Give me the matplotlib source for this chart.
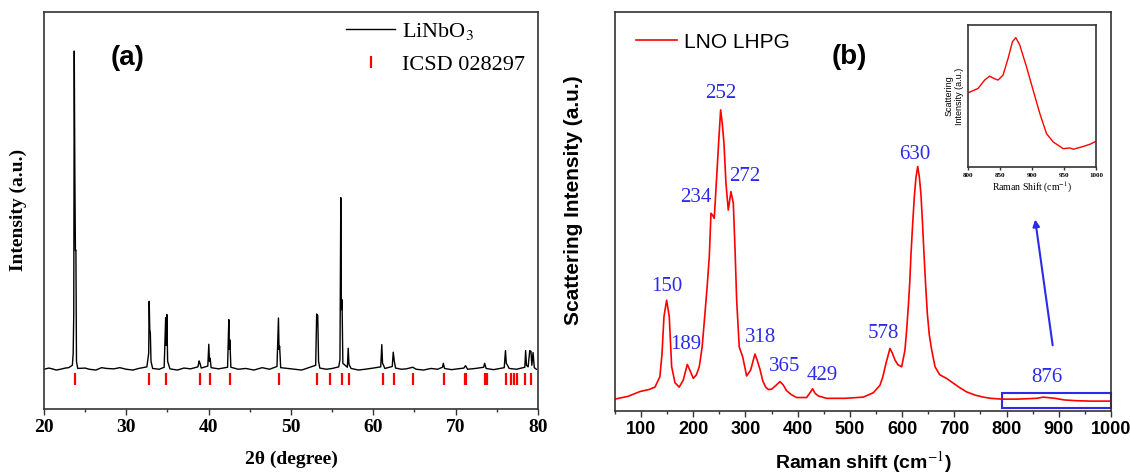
import numpy as np
import matplotlib
matplotlib.use("Agg")
import matplotlib.pyplot as plt
from matplotlib.ticker import MultipleLocator
from matplotlib.patches import Rectangle

plt.rcParams['mathtext.fontset'] = 'stix'

# XRD pattern of LiNbO3 (y in % of axis height)
xrd_2theta = [20.0, 20.6, 21.0, 21.5, 22.0, 22.6, 23.0, 23.45, 23.55, 23.62, 23.68, 23.75, 23.82, 23.88, 23.95, 24.1,
              25.0, 25.5, 26.3, 27.0, 27.6, 28.5, 29.2, 30.0, 30.8, 31.5, 32.5, 32.72, 32.78, 32.85, 32.92, 33.0, 33.2,
              34.0, 34.6, 34.78, 34.85, 34.92, 35.02, 35.3, 36.2, 37.0, 37.8, 38.7, 38.85, 38.95, 39.1,
              39.9, 40.02, 40.1, 40.18, 40.3, 41.2, 42.3, 42.45, 42.52, 42.58, 42.7,
              43.6, 44.5, 45.5, 46.5, 47.4, 48.3, 48.48, 48.55, 48.62, 48.75, 49.6, 50.5, 51.3, 52.0,
              53.0, 53.12, 53.25, 53.35, 53.5, 54.3, 55.0, 55.8, 55.95, 56.05, 56.12, 56.2, 56.3,
              56.85, 56.95, 57.05, 57.3, 58.2, 59.0, 60.0, 60.9, 61.03, 61.12, 61.2, 61.4, 62.3, 62.42, 62.55, 62.7,
              63.4, 64.0, 64.8, 65.2, 66.1, 67.0, 67.8, 68.4, 68.5, 68.65, 69.5, 70.3, 71.0, 71.2, 71.45,
              72.4, 73.4, 73.52, 73.7, 74.6, 75.9, 76.05, 76.15, 76.3, 76.5, 77.4,
              78.4, 78.5, 78.6, 78.8, 79.0, 79.15, 79.25, 79.4, 79.55, 79.8]
xrd_int = [10.0, 10.3, 10.1, 9.8, 10.0, 10.3, 10.4, 11.0, 14.0, 24.2, 90.1, 60.0, 39.9, 40.0, 12.0, 10.2,
           10.3, 10.0, 9.8, 10.4, 10.2, 10.1, 10.4, 10.0, 9.8, 10.2, 10.6, 14.0, 27.1, 20.0, 19.1, 12.0, 10.2,
           10.0, 10.5, 23.0, 16.0, 23.8, 12.0, 10.1, 9.8, 10.3, 10.1, 10.6, 12.1, 11.5, 10.3,
           10.8, 16.3, 12.0, 12.8, 10.4, 10.1, 10.5, 22.5, 15.0, 17.4, 10.5,
           10.0, 10.2, 9.8, 10.4, 10.0, 10.7, 22.9, 15.0, 15.8, 10.4, 10.2, 10.0, 9.8, 10.3,
           11.0, 23.9, 23.5, 12.0, 10.3, 10.0, 10.2, 10.6, 12.4, 53.2, 25.0, 27.5, 11.5,
           10.5, 15.3, 11.2, 10.2, 9.8, 10.0, 10.3, 10.6, 16.2, 11.5, 11.2, 10.2, 10.7, 14.3, 12.0, 10.3,
           10.0, 10.1, 10.5, 10.0, 9.8, 10.2, 10.0, 10.5, 11.5, 10.2, 9.9, 10.1, 10.3, 10.9, 10.0,
           10.2, 10.5, 11.5, 10.2, 9.9, 10.4, 14.7, 11.5, 11.0, 10.2, 10.0,
           10.5, 14.7, 11.0, 10.6, 14.7, 14.5, 11.0, 14.2, 10.4, 10.0]

# ICSD 028297 reference reflections
icsd_pos = [23.77, 32.77, 34.81, 39.0, 40.13, 42.6, 48.57, 53.2, 54.8, 56.15, 57.01, 61.21,
            62.47, 64.76, 68.57, 71.17, 71.3, 73.55, 73.85, 76.06, 76.71, 77.1, 77.49, 78.44, 79.09]
icsd_level = 7.5

# Raman spectrum (LNO LHPG)
raman_shift = [50, 75, 97.9, 115, 126.6, 136, 140, 143.9, 149, 154, 158.6, 165, 173, 180.9, 188.5,
               194, 200, 206, 211.5, 217, 222.4, 226.5, 230.7, 233.9, 237, 240.2, 244.8, 248.5,
               252.4, 255.5, 258.8, 262.6, 267, 272.2, 276.7, 280, 283.1, 288, 294.6, 302.2,
               309.9, 318.1, 322, 327.7, 333, 338.6, 344, 350.1, 358, 366, 372, 378.8, 388, 398,
               417.1, 422, 428.6, 433, 439.4, 455.3, 490, 525.6, 544.8, 551, 557.6, 563, 569.1,
               576.7, 581, 586.3, 592, 599.1, 605.4, 608.5, 611.8, 614.5, 617, 620, 623.3, 626.5,
               629.8, 633, 636.1, 639, 641.8, 645, 648.2, 652, 656.6, 663, 672, 685, 698, 710,
               723.6, 740, 755.4, 770, 790.6, 820, 857.6, 870.4, 892.8, 910, 934.3, 960, 1000]
raman_int = [2.9, 3.6, 4.8, 5.3, 5.9, 8.5, 14.0, 23.6, 27.7, 23.6, 11.0, 7.0, 5.9, 7.7, 11.6,
             10.0, 8.1, 9.0, 11.0, 16.0, 24.4, 31.0, 38.6, 49.5, 49.0, 48.2, 58.6, 67.0,
             75.4, 72.0, 67.0, 57.0, 50.3, 54.9, 52.0, 40.3, 27.7, 16.0, 13.5, 8.7,
             10.2, 14.2, 12.8, 10.4, 7.5, 5.9, 5.3, 5.4, 6.3, 7.3, 6.5, 5.0, 4.0, 3.3,
             3.3, 4.2, 5.5, 4.4, 3.7, 3.1, 3.1, 3.4, 4.5, 5.4, 6.4, 8.5, 11.9,
             15.6, 14.5, 12.7, 11.5, 11.0, 15.2, 20.0, 26.1, 32.0, 39.4, 46.5, 53.6, 58.5,
             61.2, 58.5, 54.1, 47.0, 39.4, 31.5, 24.4, 19.0, 15.2, 11.0, 9.0, 8.1, 6.9, 5.8,
             4.7, 3.9, 3.4, 3.1, 2.9, 2.9, 3.1, 3.4, 3.1, 2.7, 2.5, 2.4, 2.4]

peak_labels = ['150', '189', '234', '252', '272', '318', '365', '429', '578', '630', '876']
peak_label_x = [149, 186, 205, 252.6, 299, 329.6, 375.6, 447.8, 563.9, 624.6, 877]
peak_label_y = [31.1, 16.5, 53.4, 79.5, 58.8, 18.4, 11.2, 8.9, 19.4, 64.3, 8.2]

# inset: zoom on 800-1000 cm-1
inset_shift = [800, 815.7, 826.1, 833.9, 840.2, 847, 854.8, 862.7, 869.5, 874.7, 880.9, 891.4,
               901.8, 912.3, 922.7, 933.2, 948.8, 959.3, 964.5, 977.5, 990.6, 1000]
inset_int = [52.2, 55.3, 61.2, 64.0, 62.4, 61.2, 64.7, 76.5, 88.2, 91.1, 85.9, 70.6,
             54.1, 37.6, 23.5, 17.6, 12.9, 13.4, 12.5, 14.1, 16.0, 18.1]

blue = '#2b2bea'
spine_col = '#333333'
serif = 'Liberation Serif'
sans = 'Liberation Sans'

fig = plt.figure(figsize=(11.3, 4.76), dpi=100)
ax1 = fig.add_axes([0.0389, 0.1408, 0.4372, 0.8346])
ax2 = fig.add_axes([0.5442, 0.1372, 0.4390, 0.8382])
axin = fig.add_axes([0.8566, 0.6492, 0.1133, 0.2983])

for ax in (ax1, ax2, axin):
    for s in ax.spines.values():
        s.set_color(spine_col)
        s.set_linewidth(1.2)
    ax.set_yticks([])
    ax.tick_params(axis='x', direction='out', color=spine_col, width=1.0, length=4)
    ax.tick_params(axis='x', which='minor', direction='out', color=spine_col, width=1.0, length=2.5)

# (a) XRD
ax1.plot(xrd_2theta, xrd_int, color='black', lw=1.0, label='LiNbO$_3$')
ax1.plot(icsd_pos, [icsd_level] * len(icsd_pos), ls='none', marker='|', ms=8, mew=1.6,
         color='red', label='ICSD 028297')
ax1.set_xlim(20, 80)
ax1.set_ylim(0, 100)
ax1.xaxis.set_major_locator(MultipleLocator(10))
ax1.xaxis.set_minor_locator(MultipleLocator(5))
for t in ax1.get_xticklabels():
    t.set_fontfamily(serif)
    t.set_fontweight('bold')
    t.set_fontsize(14)
ax1.set_xlabel('2θ (degree)', family=serif, fontweight='bold', fontsize=14, labelpad=10)
ax1.set_ylabel('Intensity (a.u.)', family=serif, fontweight='bold', fontsize=14)
ax1.yaxis.set_label_coords(-0.034, 0.5)
ax1.text(0.169, 0.883, '(a)', transform=ax1.transAxes, fontsize=20, fontweight='bold',
         family=sans, va='center', ha='center')
ax1.legend(loc='upper right', bbox_to_anchor=(1.0, 1.01), frameon=False,
           prop={'family': serif, 'size': 16}, handlelength=2.2, handletextpad=0.3,
           labelspacing=0.55, borderaxespad=0.2)

# (b) Raman
ax2.plot(raman_shift, raman_int, color='red', lw=1.2, label='LNO LHPG')
ax2.set_xlim(50, 1000)
ax2.set_ylim(0, 100)
ax2.xaxis.set_major_locator(MultipleLocator(100))
ax2.xaxis.set_minor_locator(MultipleLocator(50))
for t in ax2.get_xticklabels():
    t.set_fontfamily(sans)
    t.set_fontweight('bold')
    t.set_fontsize(13)
ax2.set_xlabel('Raman shift (cm$^{-1}$)', family=sans, fontweight='bold', fontsize=14, labelpad=8)
ax2.set_ylabel('Scattering Intensity (a.u.)', family=sans, fontweight='bold', fontsize=15)
ax2.yaxis.set_label_coords(-0.065, 0.528)
for lab, lx, ly in zip(peak_labels, peak_label_x, peak_label_y):
    ax2.text(lx, ly, lab, color=blue, family=serif, fontsize=15, ha='center', va='center')
ax2.text(0.473, 0.887, '(b)', transform=ax2.transAxes, fontsize=20, fontweight='bold',
         family=sans, va='center', ha='center')
ax2.legend(loc='upper left', frameon=False, prop={'family': sans, 'size': 15},
           handlelength=2.0, handletextpad=0.3, borderaxespad=0.6)
ax2.add_patch(Rectangle((792, 0.6), 208, 3.9, fill=False, edgecolor=blue, lw=1.5, clip_on=False))
ax2.annotate('', xy=(854, 48.6), xytext=(889, 15.7),
             arrowprops=dict(arrowstyle='-|>', color=blue, lw=1.5, mutation_scale=10))

# inset
axin.plot(inset_shift, inset_int, color='red', lw=1.0)
axin.set_xlim(800, 1000)
axin.set_ylim(0, 100)
axin.set_xticks([800, 850, 900, 950, 1000])
axin.tick_params(axis='x', length=2, pad=2)
for t in axin.get_xticklabels():
    t.set_fontfamily(serif)
    t.set_fontweight('bold')
    t.set_fontsize(5)
axin.set_xlabel('Raman Shift (cm$^{-1}$)', family=serif, fontsize=7, labelpad=2)
axin.set_ylabel('Scattering\nIntensity (a.u.)', family=sans, fontsize=6.5, labelpad=3)

fig.savefig('out.png', dpi=100)
